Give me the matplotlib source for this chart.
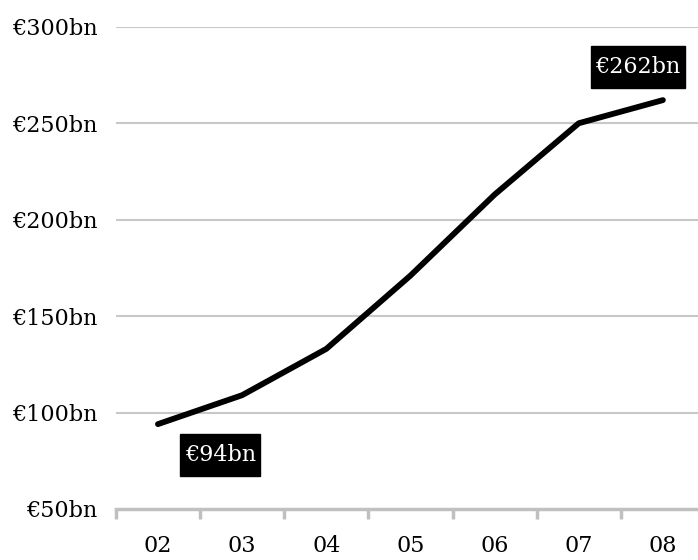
import matplotlib
matplotlib.use("Agg")
import matplotlib.pyplot as plt
from matplotlib.path import Path

years = ["02", "03", "04", "05", "06", "07", "08"]
values = [94, 109, 133, 171, 213, 250, 262]
y_ticks = [50, 100, 150, 200, 250, 300]
y_labels = ["€50bn", "€100bn", "€150bn", "€200bn", "€250bn", "€300bn"]

plt.rcParams['font.family'] = ['DejaVu Serif']
FS = 16

fig = plt.figure(figsize=(6.98, 5.6), dpi=100)
ax = fig.add_axes([0.166, 0.0911, 0.844, 0.861])

x = list(range(len(years)))
ax.plot(x, values, color="black", lw=4.2, solid_capstyle="round", zorder=3)

ax.set_xlim(-0.5, len(years) - 0.5)
ax.set_ylim(50, 300)
ax.set_yticks(y_ticks)
ax.set_yticklabels(y_labels, fontsize=FS)
ax.set_xticks(x)
ax.set_xticklabels(years, fontsize=FS)
for t in y_ticks[1:]:
    ax.axhline(t, color="#c8c8c8", lw=1.5, zorder=1)

for s in ["top", "right", "left"]:
    ax.spines[s].set_visible(False)
ax.spines["bottom"].set_color("#c0c0c0")
ax.spines["bottom"].set_linewidth(2.5)
ax.tick_params(axis="y", length=0, pad=13)
ax.tick_params(axis="x", which="major", length=0, pad=19)
ax.set_xticks([i - 0.5 for i in range(len(years) + 1)], minor=True)
ax.tick_params(axis="x", which="minor", length=7, width=2.5, color="#c0c0c0", direction="out")


def tallbox(x0, y0, width, height, mutation_size):
    px = 0.2 * mutation_size
    py = 0.45 * mutation_size
    return Path([(x0 - px, y0 - py), (x0 + width + px, y0 - py),
                 (x0 + width + px, y0 + height + py), (x0 - px, y0 + height + py),
                 (x0 - px, y0 - py)], closed=True)


bbox = dict(boxstyle=tallbox, fc="black", ec="black")
ax.annotate("€262bn", xy=(x[-1], values[-1]), xytext=(-18, 24), textcoords="offset points",
            ha="center", va="center", color="white", fontsize=FS, bbox=bbox)
ax.annotate("€94bn", xy=(x[0], values[0]), xytext=(45, -22), textcoords="offset points",
            ha="center", va="center", color="white", fontsize=FS, bbox=bbox)

fig.savefig("out.png", dpi=100)
